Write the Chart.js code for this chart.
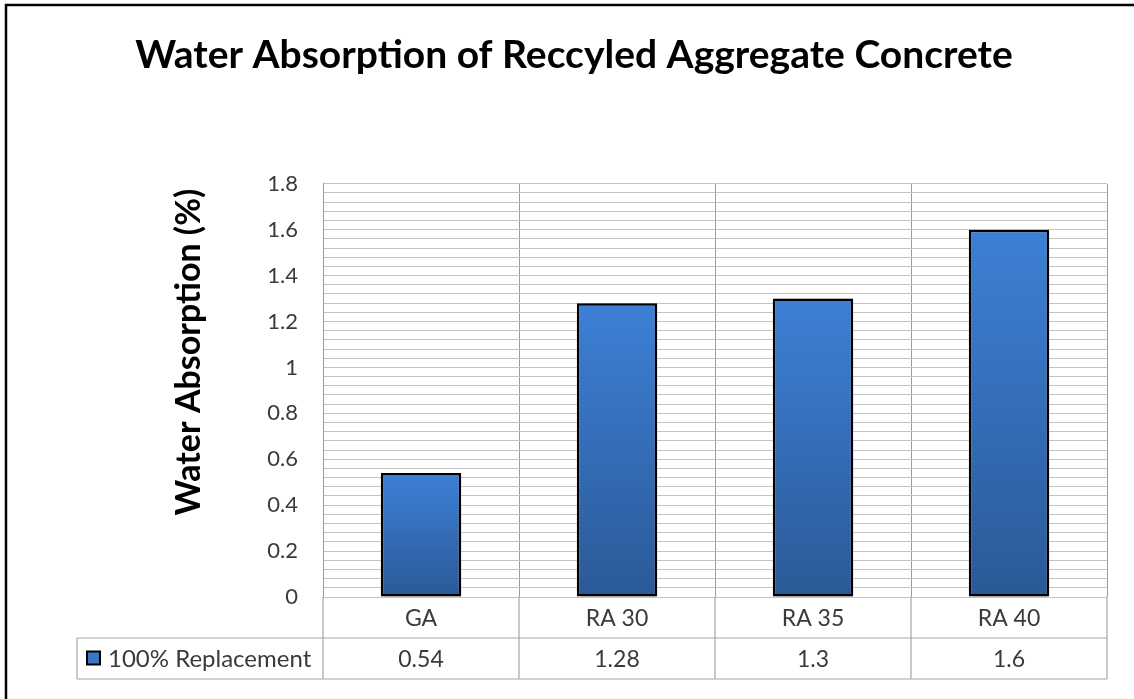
<!DOCTYPE html>
<html>
<head>
<meta charset="utf-8">
<title>Water Absorption of Reccyled Aggregate Concrete</title>
<script src="https://cdn.jsdelivr.net/npm/chart.js@4.4.1/dist/chart.umd.min.js"></script>
<style>
  html, body { margin: 0; padding: 0; background: #fff; }
  #wrap { width: 1134px; height: 699px; }
</style>
</head>
<body>
<div id="wrap"><canvas id="chart" width="1134" height="699"></canvas></div>
<script>
// chart data
const categories = ['GA', 'RA 30', 'RA 35', 'RA 40'];
const absorption = [0.54, 1.28, 1.3, 1.6];
const tableValues = ['0.54', '1.28', '1.3', '1.6'];
const seriesName = '100% Replacement';
const chartTitle = 'Water Absorption of Reccyled Aggregate Concrete';
const yAxisTitle = 'Water Absorption (%)';
const yMin = 0;
const yMax = 1.8;
const yStep = 0.04;   // minor gridlines
const yLabelStep = 0.2;

const FONT = 'Lato, "Open Sans", sans-serif';
const GRID = '#c4c4c4';
const CAT_LINE = '#9c9c9c';
const TABLE_LINE = '#a6a6a6';
const TEXT = '#3a3a3a';

function barGradient(context) {
  const chart = context.chart;
  if (!chart.chartArea || context.raw === undefined) return '#3a76c4';
  const yScale = chart.scales.y;
  const top = yScale.getPixelForValue(context.raw);
  const bottom = yScale.getPixelForValue(0);
  const g = chart.ctx.createLinearGradient(0, top, 0, bottom);
  g.addColorStop(0, '#3d80d6');
  g.addColorStop(1, '#2b5997');
  return g;
}

// white page with the black frame (only top and left edges are in view)
const framePlugin = {
  id: 'frame',
  beforeDraw(chart) {
    const { ctx, width, height } = chart;
    ctx.save();
    ctx.fillStyle = '#fff';
    ctx.fillRect(0, 0, width, height);
    ctx.strokeStyle = '#000';
    ctx.lineWidth = 2.5;
    ctx.beginPath();
    ctx.moveTo(6, height + 5);
    ctx.lineTo(6, 5);
    ctx.lineTo(width + 5, 5);
    ctx.stroke();
    ctx.restore();
  },
};

// soft shadow behind the bars
const shadowPlugin = {
  id: 'barShadow',
  beforeDatasetsDraw(chart) {
    const ctx = chart.ctx;
    ctx.save();
    ctx.shadowColor = 'rgba(0, 0, 0, 0.28)';
    ctx.shadowBlur = 6;
    ctx.shadowOffsetX = 2;
    ctx.shadowOffsetY = 2;
  },
  afterDatasetsDraw(chart) {
    chart.ctx.restore();
  },
};

// rotated y-axis title, placed where Excel put it
const yTitlePlugin = {
  id: 'yTitle',
  afterDraw(chart) {
    const ctx = chart.ctx;
    ctx.save();
    ctx.translate(189, 352);
    ctx.rotate(-Math.PI / 2);
    ctx.font = 'bold 34px ' + FONT;
    ctx.fillStyle = '#000';
    ctx.textAlign = 'center';
    ctx.textBaseline = 'middle';
    ctx.fillText(yAxisTitle, 0, 0);
    ctx.restore();
  },
};

// data table under the plot area
const dataTablePlugin = {
  id: 'dataTable',
  afterDraw(chart) {
    const { ctx, chartArea: a, scales: { x } } = chart;
    const rowH = 41;
    const r1 = a.bottom;
    const r2 = r1 + rowH;
    const r3 = r2 + rowH;
    const keyLeft = 77;
    const n = categories.length;

    ctx.save();
    ctx.strokeStyle = TABLE_LINE;
    ctx.lineWidth = 1.2;
    ctx.beginPath();
    ctx.moveTo(keyLeft, r2); ctx.lineTo(a.right, r2);
    ctx.moveTo(keyLeft, r3); ctx.lineTo(a.right, r3);
    ctx.moveTo(keyLeft, r2); ctx.lineTo(keyLeft, r3);
    for (let i = 0; i <= n; i++) {
      let xb;
      if (i === 0) xb = a.left;
      else if (i === n) xb = a.right;
      else xb = (x.getPixelForValue(i - 1) + x.getPixelForValue(i)) / 2;
      ctx.moveTo(xb, r1); ctx.lineTo(xb, r3);
    }
    ctx.stroke();

    ctx.fillStyle = TEXT;
    ctx.font = '23px ' + FONT;
    ctx.textAlign = 'center';
    ctx.textBaseline = 'middle';
    categories.forEach((c, i) => {
      const cx = x.getPixelForValue(i);
      ctx.fillText(c, cx, (r1 + r2) / 2 + 1);
      ctx.fillText(tableValues[i], cx, (r2 + r3) / 2 + 1);
    });

    // legend key
    const ky = (r2 + r3) / 2;
    ctx.fillStyle = '#3a76c4';
    ctx.fillRect(keyLeft + 10, ky - 7, 13, 13);
    ctx.strokeStyle = '#000';
    ctx.lineWidth = 2;
    ctx.strokeRect(keyLeft + 10, ky - 7, 13, 13);
    ctx.fillStyle = TEXT;
    ctx.textAlign = 'left';
    ctx.font = '24px ' + FONT;
    ctx.fillText(seriesName, keyLeft + 31, ky + 1);
    ctx.restore();
  },
};

new Chart(document.getElementById('chart'), {
  type: 'bar',
  data: {
    labels: categories,
    datasets: [{
      label: seriesName,
      data: absorption,
      backgroundColor: barGradient,
      borderColor: '#000',
      borderWidth: 2.5,
      borderSkipped: false,
      categoryPercentage: 1,
      barPercentage: 0.41,
    }],
  },
  options: {
    responsive: false,
    animation: false,
    devicePixelRatio: 1,
    layout: { padding: { left: 41, right: 27, top: 0, bottom: 102 } },
    plugins: {
      legend: { display: false },
      tooltip: { enabled: false },
      title: {
        display: true,
        text: chartTitle,
        color: '#000',
        font: { family: FONT, size: 39, weight: 'bold' },
        padding: { top: 32, bottom: 105 },
      },
    },
    scales: {
      x: {
        grid: { display: true, offset: true, color: CAT_LINE, drawTicks: false },
        border: { display: false },
        ticks: { display: false },
        afterFit(scale) { scale.height = 0; },
      },
      y: {
        min: yMin,
        max: yMax,
        grid: { color: GRID, drawTicks: false },
        border: { display: true, color: CAT_LINE },
        ticks: {
          stepSize: yStep,
          autoSkip: false,
          padding: 25,
          color: TEXT,
          font: { family: FONT, size: 22 },
          callback(value) {
            const k = value / yLabelStep;
            if (Math.abs(k - Math.round(k)) > 1e-6) return '';
            return String(Number(value.toFixed(1)));
          },
        },
        afterFit(scale) { scale.width = 323 - 41; },
      },
    },
  },
  plugins: [framePlugin, shadowPlugin, yTitlePlugin, dataTablePlugin],
});
</script>
</body>
</html>
